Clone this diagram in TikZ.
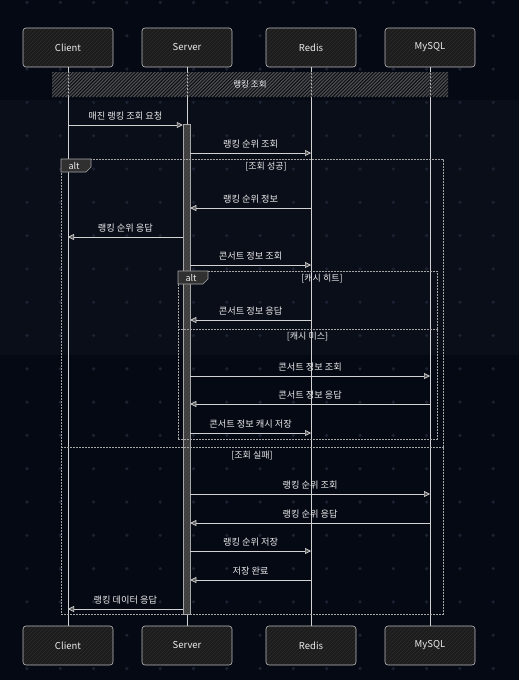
\documentclass[tikz,border=0pt]{standalone}
\usepackage{fontspec}
\setmainfont{Noto Sans CJK KR}
\usepackage{xcolor}
\usetikzlibrary{arrows.meta, positioning, calc}

\definecolor{bgdark}{HTML}{050914}
\definecolor{bglight}{HTML}{0A0E19}
\definecolor{dotc}{HTML}{1C2232}
\definecolor{linec}{HTML}{D2D2D2}
\definecolor{txt}{HTML}{ECECEC}
\definecolor{boxfill}{HTML}{1C1C1C}
\definecolor{boxline}{HTML}{BDBDBD}
\definecolor{hatchc}{HTML}{4A4A4A}
\definecolor{boxhatch}{HTML}{2C2C2C}
\definecolor{framec}{HTML}{A6A6A6}
\definecolor{tipfill}{HTML}{5A5A5A}
\definecolor{tabfill}{HTML}{303030}
\definecolor{barfill}{HTML}{3E3E3E}

\begin{document}
\begin{tikzpicture}[x=1pt, y=-1pt,
    actor/.style={draw=boxline, fill=boxfill, rounded corners=3pt, line width=0.6pt, minimum width=90pt, minimum height=39pt, font=\fontsize{9.5}{11}\selectfont, text=txt,
        path picture={\foreach \k in {-12,...,26} \draw[boxhatch, line width=0.5pt] ($(path picture bounding box.south west)+(4*\k,0)$) -- ++(40,-40);}},
    life/.style={draw=linec, line width=0.8pt},
    band/.style={minimum width=396pt, minimum height=25pt, inner sep=0pt, font=\fontsize{8.5}{10}\selectfont, text=txt!85,
        path picture={\foreach \k in {-8,...,120} \draw[hatchc, line width=1.3pt] ($(path picture bounding box.south west)+(3.4*\k,0)$) -- ++(26,-26);}},
    actbar/.style={draw=framec, fill=barfill, line width=0.5pt, minimum width=7pt, minimum height=490pt, inner sep=0pt, anchor=north,
        path picture={\foreach \k in {-2,...,125} \draw[black!70, line width=0.4pt] ($(path picture bounding box.south west)+(0,-4*\k)$) -- ++(8,-8);}},
    msg/.style={draw=linec, line width=0.7pt, -{Triangle[length=6pt, width=6pt, fill=tipfill]}},
    lbl/.style={font=\fontsize{9.2}{11}\selectfont, text=txt, above=1pt},
    frame/.style={draw=framec, line width=0.7pt, dash pattern=on 2pt off 1pt, inner sep=0pt, anchor=north west},
    tab/.style={draw=framec, fill=tabfill, line width=0.6pt},
    guard/.style={font=\fontsize{9}{11}\selectfont, text=txt}
]
    \useasboundingbox (0,0) rectangle (519,680);
    \fill[bgdark] (0,0) rectangle (519,680);
    \fill[bglight] (0,100) rectangle (519,355);
    % dot grid
    \foreach \i in {0,...,15}
        \foreach \j in {0,...,20}
            \fill[dotc] ({27+33.3*\i},{2.5+33.3*\j}) +(0,-1.8) -- +(1.8,0) -- +(0,1.8) -- +(-1.8,0) -- cycle;

    % participants
    \node[actor] at (68,47.5) (client) {Client};
    \node[actor] at (187,47.5) (server) {Server};
    \node[actor] at (311,47.5) (redis) {Redis};
    \node[actor] at (430,47.5) (mysql) {MySQL};
    \node[actor] at (68,645.5) (clientB) {Client};
    \node[actor] at (187,645.5) (serverB) {Server};
    \node[actor] at (311,645.5) (redisB) {Redis};
    \node[actor] at (430,645.5) (mysqlB) {MySQL};
    \draw[life] (client) -- (clientB);
    \draw[life] (server) -- (serverB);
    \draw[life] (redis) -- (redisB);
    \draw[life] (mysql) -- (mysqlB);

    \node[band] at (250,84.5) (sect) {랭킹 조회};

    % message rows
    \coordinate (r1) at (0,125);
    \coordinate (r2) at (0,153);
    \coordinate (r3) at (0,208);
    \coordinate (r4) at (0,237);
    \coordinate (r5) at (0,265);
    \coordinate (r6) at (0,320);
    \coordinate (r7) at (0,376);
    \coordinate (r8) at (0,404);
    \coordinate (r9) at (0,433);
    \coordinate (r10) at (0,494);
    \coordinate (r11) at (0,523);
    \coordinate (r12) at (0,551);
    \coordinate (r13) at (0,580);
    \coordinate (r14) at (0,609);
    \coordinate (sepA) at (0,447);
    \coordinate (sepB) at (0,329);

    % activation
    \node[actbar] at (186.5,124) (bar) {};

    % frames
    \node[frame, minimum width=382pt, minimum height=455pt] at (61,159) (alt1) {};
    \draw[frame] (alt1.west |- sepA) -- (alt1.east |- sepA);
    \draw[tab] (alt1.north west) -- ++(30,0) -- ++(0,8) -- ++(-5,5) -- ++(-25,0) -- cycle;
    \node[guard, anchor=west] at ($(alt1.north west)+(4,6.5)$) (alt1tab) {alt};
    \node[guard] at (266,167) (g1) {[조회 성공]};
    \node[guard] at (252,456) (g2) {[조회 실패]};

    \node[frame, minimum width=259pt, minimum height=168pt] at (178,271) (alt2) {};
    \draw[frame] (alt2.west |- sepB) -- (alt2.east |- sepB);
    \draw[tab] (alt2.north west) -- ++(30,0) -- ++(0,8) -- ++(-5,5) -- ++(-25,0) -- cycle;
    \node[guard, anchor=west] at ($(alt2.north west)+(4,6.5)$) (alt2tab) {alt};
    \node[guard] at (322,279) (g3) {[캐시 히트]};
    \node[guard] at (307.5,337) (g4) {[캐시 미스]};

    % messages
    \draw[msg] (client |- r1) -- (bar.west |- r1) node[lbl, midway] {매진 랭킹 조회 요청};
    \draw[msg] (bar.east |- r2) -- (redis |- r2) node[lbl, midway] {랭킹 순위 조회};
    \draw[msg] (redis |- r3) -- (bar.east |- r3) node[lbl, midway] {랭킹 순위 정보};
    \draw[msg] (bar.west |- r4) -- (client |- r4) node[lbl, midway] {랭킹 순위 응답};
    \draw[msg] (bar.east |- r5) -- (redis |- r5) node[lbl, midway] {콘서트 정보 조회};
    \draw[msg] (redis |- r6) -- (bar.east |- r6) node[lbl, midway] {콘서트 정보 응답};
    \draw[msg] (bar.east |- r7) -- (mysql |- r7) node[lbl, midway] {콘서트 정보 조회};
    \draw[msg] (mysql |- r8) -- (bar.east |- r8) node[lbl, midway] {콘서트 정보 응답};
    \draw[msg] (bar.east |- r9) -- (redis |- r9) node[lbl, midway] {콘서트 정보 캐시 저장};
    \draw[msg] (bar.east |- r10) -- (mysql |- r10) node[lbl, midway] {랭킹 순위 조회};
    \draw[msg] (mysql |- r11) -- (bar.east |- r11) node[lbl, midway] {랭킹 순위 응답};
    \draw[msg] (bar.east |- r12) -- (redis |- r12) node[lbl, midway] {랭킹 순위 저장};
    \draw[msg] (redis |- r13) -- (bar.east |- r13) node[lbl, midway] {저장 완료};
    \draw[msg] (bar.west |- r14) -- (client |- r14) node[lbl, midway] {랭킹 데이터 응답};
\end{tikzpicture}
\end{document}
